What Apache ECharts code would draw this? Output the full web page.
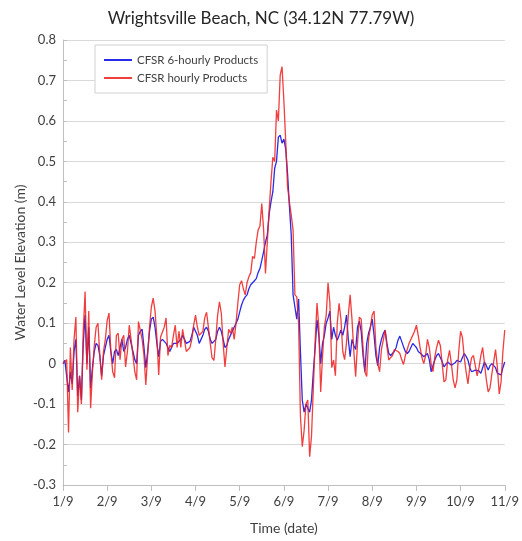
<!DOCTYPE html>
<html>
<head>
<meta charset="utf-8">
<script src="https://cdn.jsdelivr.net/npm/echarts@6/dist/echarts.min.js"></script>
<style>html,body{margin:0;padding:0;background:#fff}#c{width:522px;height:541px}</style>
</head>
<body>
<div id="c"></div>
<script>
const titleText = 'Wrightsville Beach, NC (34.12N 77.79W)';
const seriesNames = ['CFSR 6-hourly Products', 'CFSR hourly Products'];
const xLabels = ['1/9','2/9','3/9','4/9','5/9','6/9','7/9','8/9','9/9','10/9','11/9'];
// hourly values (hours since 1/9 00:00)
const blueValues = [
0.0,0.008,0.01,-0.07,-0.02,-0.05,0.03,0.06,-0.08,-0.03,
-0.09,0.05,0.12,0.0,0.09,-0.06,-0.01,0.03,0.05,0.045,
0.02,-0.03,0.02,0.04,0.06,0.07,0.03,0.0,0.03,0.035,
0.02,0.04,0.06,0.03,0.04,0.06,0.07,0.05,0.03,0.01,
0.0,0.07,0.08,0.085,0.04,-0.01,0.03,0.08,0.11,0.115,
0.09,0.05,0.017,0.055,0.06,0.06,0.05,0.04,0.03,0.04,
0.05,0.05,0.05,0.05,0.06,0.07,0.06,0.05,0.05,0.055,
0.07,0.09,0.09,0.07,0.05,0.06,0.07,0.085,0.09,0.08,
0.06,0.05,0.05,0.06,0.08,0.09,0.08,0.06,0.04,0.045,
0.06,0.07,0.08,0.09,0.1,0.11,0.128,0.145,0.157,0.165,
0.17,0.185,0.195,0.2,0.205,0.21,0.225,0.235,0.255,0.277,
0.3,0.318,0.37,0.4,0.425,0.483,0.5,0.56,0.565,0.545,
0.555,0.53,0.47,0.39,0.318,0.17,0.14,0.11,0.16,0.03,
-0.09,-0.12,-0.10,-0.098,-0.12,-0.09,-0.02,0.04,0.108,0.07,
0.0,0.05,0.07,0.1,0.113,0.13,0.06,0.09,0.07,0.058,
0.07,0.083,0.07,0.09,0.12,0.06,0.017,0.06,0.045,0.035,
0.09,0.105,0.08,0.02,-0.02,0.05,0.075,0.09,0.11,0.07,
0.02,-0.005,0.04,0.06,0.074,0.083,0.05,0.025,0.02,0.017,
0.03,0.04,0.058,0.068,0.055,0.042,0.03,0.025,0.03,0.04,
0.05,0.05,0.04,0.03,0.028,0.022,0.017,0.02,0.025,0.01,
-0.02,-0.005,0.009,0.02,0.025,0.015,0.005,-0.008,-0.002,0.004,
0.0,-0.004,-0.002,0.002,0.008,0.006,0.004,0.015,0.025,0.018,
0.009,-0.01,-0.02,-0.02,-0.016,-0.012,-0.018,-0.024,-0.01,0.004,
-0.005,-0.016,-0.005,0.0,0.0,-0.01,-0.024,-0.026,-0.028,-0.01,
0.004];
const redValues = [
0.00,0.005,0.01,-0.17,0.04,-0.065,0.06,0.115,-0.12,-0.03,
-0.10,0.08,0.178,-0.015,0.13,-0.11,-0.02,0.045,0.09,0.10,
0.02,-0.04,0.03,0.06,0.107,0.125,0.03,-0.02,-0.035,0.07,
0.075,0.01,0.06,0.07,-0.008,0.03,0.095,0.06,0.02,-0.02,
-0.04,0.104,0.108,0.06,0.02,-0.053,0.02,0.09,0.14,0.162,
0.13,0.066,-0.028,0.066,0.07,0.09,0.113,0.02,0.045,0.04,
0.07,0.095,0.04,0.08,0.04,0.085,0.085,0.03,0.035,0.04,
0.06,0.095,0.12,0.09,0.07,0.066,0.08,0.113,0.127,0.09,
0.05,0.014,0.008,0.06,0.12,0.153,0.125,0.05,-0.008,0.04,
0.085,0.075,0.09,0.06,0.10,0.15,0.195,0.205,0.185,0.17,
0.20,0.215,0.225,0.265,0.26,0.30,0.33,0.34,0.396,0.33,
0.223,0.30,0.38,0.45,0.51,0.50,0.627,0.60,0.713,0.734,
0.65,0.55,0.437,0.40,0.367,0.33,0.17,0.165,0.10,-0.13,
-0.205,-0.165,-0.10,-0.09,-0.23,-0.18,-0.06,0.055,0.15,0.09,
-0.07,0.017,0.091,0.12,0.2,0.15,-0.01,0.009,-0.03,0.1,
0.149,0.11,0.03,0.01,0.05,0.12,0.17,0.11,0.03,-0.032,
0.05,0.115,0.11,0.04,-0.02,-0.032,0.06,0.09,0.12,0.13,
0.04,0.0,-0.02,0.035,0.058,0.083,0.042,0.009,0.015,0.02,
0.035,0.035,0.03,0.025,0.01,-0.002,0.02,0.035,0.05,0.06,
0.06,0.08,0.095,0.07,0.04,0.015,0.0,0.02,0.06,0.04,
0.0,-0.02,0.017,0.04,0.058,0.045,0.0,-0.045,-0.04,0.01,
0.033,0.0,-0.04,-0.06,-0.04,0.03,0.08,0.065,0.015,-0.02,
-0.05,-0.01,0.015,0.02,-0.005,-0.03,-0.01,0.02,0.04,0.0,
-0.04,-0.07,-0.06,-0.025,0.005,0.035,-0.01,-0.075,-0.045,0.03,
0.083];

const FONT = 'Lato';
const TXT = '#404040';
const chart = echarts.init(document.getElementById('c'), null, {renderer: 'canvas'});
const toPairs = arr => arr.map((v, i) => [i, v]);
chart.setOption({
  animation: false,
  backgroundColor: '#fff',
  textStyle: {fontFamily: FONT, color: TXT},
  title: {
    text: titleText, left: 'center', top: 5,
    textStyle: {fontFamily: FONT, fontSize: 17, fontWeight: 'normal', color: '#262626'}
  },
  legend: {
    orient: 'vertical', left: 95, top: 45,
    padding: [9, 9, 9, 8], itemGap: 6, itemWidth: 28, itemHeight: 10,
    borderColor: '#d0d0d0', borderWidth: 1, backgroundColor: '#fff',
    itemStyle: {opacity: 0, borderWidth: 0},
    textStyle: {fontFamily: FONT, fontSize: 11.5, color: TXT},
    data: seriesNames
  },
  grid: {left: 63, right: 13, top: 40, bottom: 56, containLabel: false},
  xAxis: {
    type: 'value', min: 0, max: 240, interval: 24,
    name: 'Time (date)', nameLocation: 'middle', nameGap: 36,
    nameTextStyle: {fontFamily: FONT, fontSize: 14, color: TXT},
    axisLine: {show: true, onZero: false, lineStyle: {color: '#bfbfbf', width: 1}},
    axisTick: {show: true, length: 6, lineStyle: {color: '#bfbfbf'}},
    axisLabel: {fontFamily: FONT, fontSize: 13, color: TXT, margin: 10,
      formatter: v => xLabels[Math.round(v / 24)]},
    splitLine: {show: false}
  },
  yAxis: {
    type: 'value', min: -0.3, max: 0.8, interval: 0.1,
    name: 'Water Level Elevation (m)', nameLocation: 'middle', nameGap: 36,
    nameMoveOverlap: false,
    nameTextStyle: {fontFamily: FONT, fontSize: 14, color: TXT},
    axisLine: {show: true, lineStyle: {color: '#bfbfbf', width: 1}},
    axisTick: {show: true, inside: true, length: 4, lineStyle: {color: '#bfbfbf'}},
    minorTick: {show: true, splitNumber: 2, length: 4, lineStyle: {color: '#bfbfbf'}},
    axisLabel: {fontFamily: FONT, fontSize: 13, color: TXT, margin: 7,
      formatter: v => (Math.abs(v) < 1e-9 ? '0' : v.toFixed(1))},
    splitLine: {show: true, lineStyle: {color: '#d9d9d9', width: 1}}
  },
  series: [
    {name: seriesNames[0], type: 'line', data: toPairs(blueValues), symbol: 'none',
     lineStyle: {color: '#2a2ae8', width: 1.3}, itemStyle: {color: '#2a2ae8'}, z: 2},
    {name: seriesNames[1], type: 'line', data: toPairs(redValues), symbol: 'none',
     lineStyle: {color: '#ee1c1c', width: 1.3, opacity: 0.85}, itemStyle: {color: '#ee1c1c'}, z: 3}
  ]
});
</script>
</body>
</html>
